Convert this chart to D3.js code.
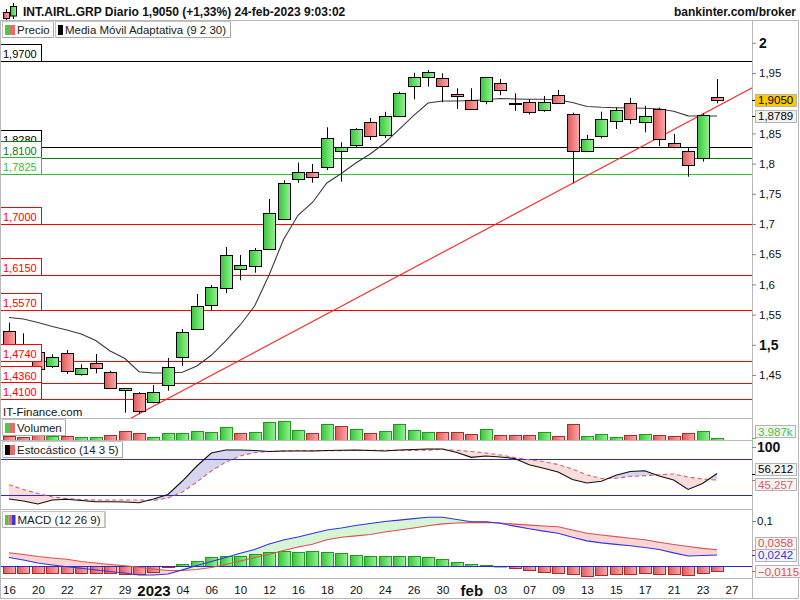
<!DOCTYPE html>
<html><head><meta charset="utf-8">
<script src="https://cdn.jsdelivr.net/npm/d3@7/dist/d3.min.js"></script>
<style>
html,body{margin:0;padding:0;background:#fff;}
svg{display:block;font-family:"Liberation Sans",Arial,sans-serif;}
</style></head><body>
<svg id="chart" width="800" height="600"></svg>
<script>
// ---------------- DATA ----------------
const dates = ["2022-12-16","2022-12-19","2022-12-20","2022-12-21","2022-12-22","2022-12-23","2022-12-27","2022-12-28","2022-12-29","2022-12-30",
"2023-01-02","2023-01-03","2023-01-04","2023-01-05","2023-01-06","2023-01-09","2023-01-10","2023-01-11","2023-01-12","2023-01-13",
"2023-01-16","2023-01-17","2023-01-18","2023-01-19","2023-01-20","2023-01-23","2023-01-24","2023-01-25","2023-01-26","2023-01-27",
"2023-01-30","2023-01-31","2023-02-01","2023-02-02","2023-02-03","2023-02-06","2023-02-07","2023-02-08","2023-02-09","2023-02-10",
"2023-02-13","2023-02-14","2023-02-15","2023-02-16","2023-02-17","2023-02-20","2023-02-21","2023-02-22","2023-02-23","2023-02-24"];
const open  = [1.523,1.485,1.4886,1.4649,1.4859,1.4517,1.4704,1.4555,1.4247,1.4197,1.4048,1.4334,1.4793,1.5257,1.5654,1.5935,1.625,1.63,1.6581,1.7088,1.774,1.7861,1.7949,1.8214,1.8308,1.8689,1.8474,1.8788,1.9285,1.9429,1.9412,1.9152,1.9058,1.9031,1.9329,1.9003,1.9015,1.8887,1.9136,1.8821,1.8214,1.8457,1.871,1.8998,1.8684,1.8904,1.8336,1.8209,1.8088,1.9098];
const high  = [1.5366,1.519,1.492,1.4843,1.4914,1.4677,1.4848,1.457,1.4285,1.4214,1.4334,1.4781,1.5262,1.5841,1.599,1.6619,1.6487,1.6603,1.7414,1.7724,1.8015,1.7993,1.8601,1.8353,1.8589,1.8755,1.8859,1.919,1.9505,1.955,1.9495,1.9247,1.9247,1.943,1.9401,1.9164,1.907,1.912,1.9219,1.8843,1.8474,1.8859,1.8932,1.9091,1.8959,1.8926,1.849,1.8263,1.8833,1.94];
const low   = [1.476,1.476,1.457,1.4616,1.4517,1.4489,1.4528,1.4275,1.3876,1.3857,1.4031,1.424,1.4654,1.5257,1.5565,1.5853,1.6068,1.6194,1.657,1.7066,1.7684,1.7684,1.7894,1.77,1.8275,1.8391,1.8424,1.877,1.9065,1.9273,1.9015,1.8904,1.8887,1.8982,1.9131,1.8876,1.8816,1.8859,1.8998,1.7674,1.8197,1.8419,1.8573,1.8656,1.8518,1.8291,1.8253,1.7783,1.8032,1.8998];
const close = [1.480,1.478,1.4594,1.4793,1.4566,1.4611,1.4614,1.4285,1.428,1.3904,1.4224,1.4627,1.5207,1.5637,1.5952,1.6482,1.6316,1.6565,1.7177,1.7674,1.7861,1.7784,1.8419,1.827,1.8573,1.8457,1.8788,1.9164,1.9429,1.9512,1.9285,1.9119,1.8899,1.9429,1.9219,1.8992,1.8849,1.9015,1.8998,1.8214,1.8402,1.8733,1.8887,1.8733,1.8788,1.8402,1.827,1.7972,1.8805,1.905];
const prevClose = 1.49; // close of the session before the first bar
// Adaptive moving average (9 2 30)
const ama = [1.5452,1.5427,1.5369,1.5303,1.5245,1.5179,1.5071,1.4897,1.4776,1.4555,1.4533,1.4533,1.4546,1.4649,1.4826,1.5066,1.5328,1.5642,1.6156,1.6743,1.7144,1.7356,1.7679,1.7836,1.801,1.8159,1.8341,1.8566,1.8795,1.9003,1.9036,1.9036,1.9045,1.9058,1.9078,1.907,1.9065,1.9065,1.9053,1.9012,1.8945,1.8932,1.8925,1.892,1.8916,1.8904,1.8866,1.879,1.8789,1.8789];
// Volume (thousands)
const volume = [9.1,6.2,10.7,9.1,8.5,7.5,6.2,10.7,21.3,15.3,6.2,15.3,15.3,21.3,17.6,29.0,15.3,17.6,40.5,42.7,22.2,15.3,35.9,31.3,24.5,15.3,19.9,35.9,22.2,17.6,17.6,17.6,13.0,24.5,10.7,10.7,10.7,17.6,8.5,35.9,8.5,13.0,6.2,10.7,13.0,10.7,8.5,15.3,19.9,3.987];
// Stochastic (14 3 5)
const stochK = [13.8,10.5,5.5,12.2,13.3,11.3,9.3,9.3,8.8,7.7,13.8,21.3,43.8,68.8,90.5,95.5,95.5,94.7,93,93.8,93.8,93.8,94.7,95,95.5,94.7,93.8,95.5,96.3,97.2,97.2,91.3,83.3,85.5,83.8,81.3,71,65,58.8,46.3,40.5,43.5,53.3,59.7,61,52.2,45.5,29.7,39.7,56.212];
const stochD = [37.7,29.7,23,17.2,14.7,13,12.2,12.2,12.2,12.2,11.3,15.5,25.5,42.2,60.5,75.5,85.5,91.3,93,93.8,94.7,94.5,94.5,94.5,94.7,95,95,94.7,94.8,95.3,96.7,95,93,90.5,87.2,83,79.2,76.3,71.3,63.8,53.8,48,48.3,51.3,52.7,54.3,55.5,50.5,47.2,45.257];
// MACD (12 26 9)
const macdLine = [0.0188,0.0132,0.0066,0.0022,-0.0015,-0.0051,-0.0088,-0.0121,-0.0155,-0.0199,-0.0199,-0.0177,-0.0085,0.0011,0.0099,0.0188,0.028,0.0364,0.0486,0.0574,0.064,0.0717,0.0795,0.0839,0.0894,0.0938,0.0982,0.1013,0.1045,0.1075,0.1075,0.1025,0.0978,0.0978,0.0942,0.088,0.0824,0.077,0.0722,0.0633,0.0554,0.0511,0.0477,0.0448,0.0408,0.0365,0.0289,0.0222,0.0232,0.0242];
const signalLine = [0.0294,0.0254,0.021,0.0177,0.0148,0.0099,0.0066,0.0033,0.0007,-0.0029,-0.0066,-0.0099,-0.0099,-0.0077,-0.0033,0.0033,0.011,0.0188,0.0254,0.0342,0.0419,0.048,0.058,0.0635,0.0665,0.0695,0.075,0.0795,0.084,0.089,0.093,0.0949,0.0958,0.0962,0.095,0.0925,0.0902,0.0884,0.0865,0.0795,0.0722,0.0685,0.0649,0.0614,0.0578,0.0523,0.0475,0.043,0.039,0.0358];
const macdHist = [-0.0147,-0.0147,-0.0162,-0.0162,-0.0162,-0.0162,-0.0162,-0.0162,-0.0177,-0.0177,-0.0125,-0.003,0.0044,0.011,0.019,0.0213,0.022,0.0265,0.030,0.0324,0.031,0.0324,0.030,0.028,0.0235,0.022,0.022,0.022,0.022,0.019,0.0147,0.0081,0.0044,0.0022,0.0004,-0.0052,-0.0095,-0.0125,-0.0147,-0.0184,-0.0228,-0.0206,-0.0184,-0.0184,-0.0162,-0.0184,-0.0184,-0.0206,-0.0162,-0.0115];
// Horizontal levels and trendline anchors
const levels = [1.97,1.828,1.81,1.7825,1.70,1.615,1.557,1.474,1.436,1.41];
const levelColors = ["#000000","#000000","#0b7a0b","#33bf33","#ff0000","#ff0000","#ff0000","#ff0000","#ff0000","#ff0000"];
const trendAnchors = [9, 39]; // bar indices whose lows define the trendline
// Axis ticks (1,9 is hidden behind the last-price box in the original)
const priceTicks = [1.45,1.5,1.55,1.6,1.65,1.7,1.75,1.8,1.85,1.95,2.0];
const xTickIdx = [0,2,4,6,8,10,12,14,16,18,20,22,24,26,28,30,32,34,36,38,40,42,44,46,48,50];
const xTickLabels = ["16","20","22","27","29","2023","04","06","10","12","16","18","20","24","26","30","feb","03","07","09","13","15","17","21","23","27"];
const title = "INT.AIRL.GRP Diario 1,9050 (+1,33%) 24-feb-2023 9:03:02";

// ---------------- SETUP ----------------
const loc = d3.formatLocale({decimal:",",thousands:".",grouping:[3],currency:["",""]});
const f4 = loc.format(".4f"), f3 = loc.format(".3f"), fTick = loc.format(".2~f");
const svg = d3.select("#chart");
const defs = svg.append("defs");
function grad(id,c1,c2){
  const g=defs.append("linearGradient").attr("id",id).attr("x1",0).attr("x2",1).attr("y1",0).attr("y2",0);
  g.append("stop").attr("offset",0).attr("stop-color",c1);
  g.append("stop").attr("offset",1).attr("stop-color",c2);
}
grad("gUp","#38c638","#94f294");
grad("gDn","#e25a5a","#faaaaa");
const RX = 752;
const PT=21, PB=418, VT=418, VB=440, ST=440, SB=509, MT=509, MB=578;
function clip(id,y0,y1){defs.append("clipPath").attr("id",id).append("rect").attr("x",0).attr("y",y0).attr("width",RX).attr("height",y1-y0);}
clip("cpP",PT,PB); clip("cpV",VT,VB); clip("cpS",ST,SB); clip("cpM",MT,MB);

const x  = d3.scaleLinear().domain([0,dates.length-1]).range([9,717]);
const yP = d3.scaleLinear().domain([1.45,1.95]).range([375,73]);
const yV = d3.scaleLinear().domain([0,48]).range([440,419]);
const yS = d3.scaleLinear().domain([0,100]).range([507.3,447.3]);
const yM = d3.scaleLinear().domain([0,0.1]).range([566,520.7]);
const cx = i => Math.round(x(i))+0.5;
const idx = d3.range(dates.length);

svg.append("rect").attr("width",800).attr("height",600).attr("fill","#fff");

// ---------------- HEADER ----------------
const hdr = svg.append("g");
hdr.append("line").attr("x1",6.5).attr("x2",6.5).attr("y1",9).attr("y2",20).attr("stroke","#000");
hdr.append("rect").attr("x",3.5).attr("y",12.5).attr("width",6).attr("height",6).attr("fill","url(#gDn)").attr("stroke","#000");
hdr.append("line").attr("x1",13.5).attr("x2",13.5).attr("y1",3).attr("y2",19).attr("stroke","#000");
hdr.append("rect").attr("x",10.5).attr("y",6.5).attr("width",6).attr("height",9.5).attr("fill","url(#gUp)").attr("stroke","#000");
hdr.append("text").attr("x",23).attr("y",16).attr("font-weight","bold").attr("font-size",12).attr("fill","#111").text(title);
hdr.append("text").attr("x",796).attr("y",16).attr("text-anchor","end").attr("font-weight","bold").attr("font-size",12).attr("fill","#111").text("bankinter.com/broker");

// ---------------- PRICE PANEL ----------------
const gP = svg.append("g").attr("clip-path","url(#cpP)");
gP.selectAll("line.lvl").data(levels).join("line").attr("class","lvl")
  .attr("x1",0).attr("x2",RX).attr("y1",d=>Math.round(yP(d))+0.5).attr("y2",d=>Math.round(yP(d))+0.5)
  .attr("stroke",(d,i)=>levelColors[i]).attr("stroke-width",1);
gP.append("path").datum(idx).attr("fill","none").attr("stroke","#3a3a3a").attr("stroke-width",1.1)
  .attr("d",d3.line().x(i=>x(i)).y(i=>yP(ama[i])));
const [ta,tb] = trendAnchors;
const slope = (low[tb]-low[ta])/(tb-ta);
const tPts = [ta-3, dates.length+4];
gP.append("path").datum(tPts).attr("fill","none").attr("stroke","#ff2020").attr("stroke-width",1.1)
  .attr("d",d3.line().x(i=>x(i)).y(i=>yP(low[ta]+slope*(i-ta))));
const cg = gP.selectAll("g.c").data(idx).join("g").attr("class","c");
cg.append("line").attr("x1",cx).attr("x2",cx).attr("y1",i=>yP(high[i])).attr("y2",i=>yP(low[i])).attr("stroke","#000");
cg.append("rect")
  .attr("x",i=>cx(i)-6).attr("width",12)
  .attr("y",i=>Math.round(yP(Math.max(open[i],close[i])))+0.5)
  .attr("height",i=>Math.max(1,Math.round(yP(Math.min(open[i],close[i])))-Math.round(yP(Math.max(open[i],close[i])))))
  .attr("fill",i=>close[i]>=open[i]?"url(#gUp)":"url(#gDn)").attr("stroke","#000");
levels.forEach((v,i)=>{
  const yl = Math.round(yP(v))+0.5;
  const g = svg.append("g");
  g.append("rect").attr("x",0.5).attr("y",yl-17).attr("width",41).attr("height",17).attr("fill","#fff").attr("stroke",levelColors[i]);
  g.append("text").attr("x",3).attr("y",yl-4).attr("font-size",11).attr("fill",levelColors[i]).text(f4(v));
});
svg.append("text").attr("x",3).attr("y",416).attr("font-size",11.5).attr("fill","#111").text("IT-Finance.com");

// ---------------- VOLUME ----------------
const gV = svg.append("g").attr("clip-path","url(#cpV)");
const volUp = i => close[i] >= (i===0?prevClose:close[i-1]);
gV.selectAll("rect").data(idx).join("rect")
  .attr("x",i=>cx(i)-6).attr("width",12)
  .attr("y",i=>Math.round(yV(volume[i]))+0.5)
  .attr("height",i=>Math.max(1,Math.round(yV(0))-Math.round(yV(volume[i]))))
  .attr("fill",i=>volUp(i)?"url(#gUp)":"url(#gDn)")
  .attr("stroke",i=>volUp(i)?"#1f9a1f":"#b02828");

// ---------------- BAND FILL HELPER ----------------
function bandFill(g,a,b,ys,cAbove,cBelow){
  const poly=(pts,c)=>g.append("path").attr("d","M"+pts.map(p=>p.join(",")).join("L")+"Z").attr("fill",c).attr("stroke",c).attr("stroke-width",0.4);
  for(let i=0;i<a.length-1;i++){
    const x0=x(i),x1=x(i+1),d0=a[i]-b[i],d1=a[i+1]-b[i+1];
    if(d0*d1<0){
      const t=d0/(d0-d1), xm=x0+(x1-x0)*t, vm=a[i]+(a[i+1]-a[i])*t;
      poly([[x0,ys(a[i])],[xm,ys(vm)],[x0,ys(b[i])]], d0>0?cAbove:cBelow);
      poly([[xm,ys(vm)],[x1,ys(a[i+1])],[x1,ys(b[i+1])]], d1>0?cAbove:cBelow);
    } else {
      poly([[x0,ys(a[i])],[x1,ys(a[i+1])],[x1,ys(b[i+1])],[x0,ys(b[i])]], (d0+d1)>=0?cAbove:cBelow);
    }
  }
}

// ---------------- STOCHASTIC ----------------
const gS = svg.append("g").attr("clip-path","url(#cpS)");
bandFill(gS.append("g"),stochK,stochD,yS,"#d5d5ef","#f9dcdc");
[80,20].forEach(v=>gS.append("line").attr("x1",0).attr("x2",RX).attr("y1",Math.round(yS(v))+0.5).attr("y2",Math.round(yS(v))+0.5).attr("stroke","#2a2ad0"));
gS.append("path").datum(idx).attr("fill","none").attr("stroke","#e06060").attr("stroke-width",1.1).attr("stroke-dasharray","4,3")
  .attr("d",d3.line().x(i=>x(i)).y(i=>yS(stochD[i])));
gS.append("path").datum(idx).attr("fill","none").attr("stroke","#111").attr("stroke-width",1.1)
  .attr("d",d3.line().x(i=>x(i)).y(i=>yS(stochK[i])));

// ---------------- MACD ----------------
const gM = svg.append("g").attr("clip-path","url(#cpM)");
bandFill(gM.append("g"),macdLine,signalLine,yM,"#d5f5d5","#f8d4d4");
gM.selectAll("rect.h").data(idx).join("rect").attr("class","h")
  .attr("x",i=>cx(i)-6).attr("width",12)
  .attr("y",i=>Math.round(yM(Math.max(0,macdHist[i])))+0.5)
  .attr("height",i=>Math.max(0.5,Math.abs(Math.round(yM(macdHist[i]))-Math.round(yM(0)))))
  .attr("fill",i=>macdHist[i]>=0?"url(#gUp)":"url(#gDn)")
  .attr("stroke",i=>macdHist[i]>=0?"#1f9a1f":"#b02828");
gM.append("line").attr("x1",0).attr("x2",RX).attr("y1",Math.round(yM(0))+0.5).attr("y2",Math.round(yM(0))+0.5).attr("stroke","#2a2ad0");
gM.append("path").datum(idx).attr("fill","none").attr("stroke","#e05050").attr("stroke-width",1.1)
  .attr("d",d3.line().x(i=>x(i)).y(i=>yM(signalLine[i])));
gM.append("path").datum(idx).attr("fill","none").attr("stroke","#3535e0").attr("stroke-width",1.1)
  .attr("d",d3.line().x(i=>x(i)).y(i=>yM(macdLine[i])));

// ---------------- FRAME ----------------
const frame = svg.append("g").attr("stroke","#b8b8b8").attr("fill","none");
frame.append("rect").attr("x",0.5).attr("y",20.5).attr("width",798).attr("height",578);
[VT,ST,MT,MB].forEach(y=>frame.append("line").attr("x1",0).attr("x2",RX).attr("y1",y+0.5).attr("y2",y+0.5));
frame.append("line").attr("x1",RX+0.5).attr("x2",RX+0.5).attr("y1",21).attr("y2",599);

// ---------------- AXES ----------------
const isBig = d => Math.abs(d-2)<1e-9||Math.abs(d-1.5)<1e-9;
const axP = svg.append("g").attr("transform",`translate(${RX},0)`)
  .call(d3.axisRight(yP).tickValues(priceTicks).tickSize(4).tickPadding(3).tickFormat(d=>fTick(d)));
axP.select(".domain").remove();
axP.selectAll(".tick line").attr("stroke","#888");
axP.selectAll(".tick text").attr("fill","#111").attr("font-family","Liberation Sans, Arial, sans-serif")
  .attr("font-size",d=>isBig(d)?14:11.5)
  .attr("font-weight",d=>isBig(d)?"bold":"normal");

const isBold = i => /^[a-z]|^\d{4}$/.test(xTickLabels[i]);
const axX = svg.append("g").attr("transform",`translate(0,${MB})`)
  .call(d3.axisBottom(x).tickValues(xTickIdx).tickSize(0).tickPadding(8).tickFormat((d,i)=>xTickLabels[i]));
axX.select(".domain").remove();
axX.selectAll(".tick text").attr("fill","#111").attr("font-family","Liberation Sans, Arial, sans-serif")
  .attr("font-size",(d,i)=>isBold(i)?15:11.5)
  .attr("font-weight",(d,i)=>isBold(i)?"bold":"normal")
  .attr("y",(d,i)=>isBold(i)?7:8);

function tick(y,color){svg.append("line").attr("x1",RX).attr("x2",RX+4).attr("y1",Math.round(y)+0.5).attr("y2",Math.round(y)+0.5).attr("stroke",color);}
tick(yS(100),"#888");
svg.append("text").attr("x",757).attr("y",yS(100)+5).attr("font-size",14).attr("font-weight","bold").attr("fill","#111").text("100");
tick(yM(0.1),"#888");
svg.append("text").attr("x",757).attr("y",yM(0.1)+4).attr("font-size",11.5).attr("fill","#111").text(loc.format(".1f")(0.1));

function valBox(yc,text,color,fill){
  const g=svg.append("g");
  const r=g.append("rect").attr("x",755.5).attr("y",Math.round(yc-6.5)+0.5).attr("height",12).attr("fill",fill).attr("stroke","#b4b4b4");
  const t=g.append("text").attr("x",758).attr("y",yc+4).attr("font-size",11.5).attr("fill",color).text(text);
  r.attr("width",Math.ceil(t.node().getComputedTextLength())+5);
}
const last = dates.length-1;
tick(yP(close[last]),"#000"); valBox(yP(close[last]),f4(close[last]),"#000","#fcc800");
tick(yP(ama[last]),"#000"); valBox(yP(ama[last])+0.5,f4(ama[last]),"#000","#f2f2f2");
tick(yV(volume[last]),"#3cc83c"); valBox(Math.min(yV(volume[last]),VB-8.5),d3.format(".3f")(volume[last])+"k","#3cc83c","#f4f4f4");
{
  const yk=yS(stochK[last]), yd=yS(stochD[last]), mid=(yk+yd)/2, gap=7.8;
  tick(yk,"#000"); tick(yd,"#e06060");
  valBox(Math.min(yk,mid-gap),f3(stochK[last]),"#000","#f4f4f4");
  valBox(Math.max(yd,mid+gap),f3(stochD[last]),"#e06060","#f4f4f4");
}
tick(yM(signalLine[last]),"#e05050"); tick(yM(macdLine[last]),"#3535e0"); tick(yM(macdHist[last]),"#e05050");
valBox(yM(signalLine[last])-6.5,f4(signalLine[last]),"#e05050","#f4f4f4");
valBox(yM(macdLine[last]),f4(macdLine[last]),"#3535e0","#f4f4f4");
valBox(Math.min(yM(macdHist[last])+1,MB-6.5),f4(macdHist[last]),"#e05050","#f4f4f4");

// ---------------- LEGENDS ----------------
function legend(x0,y0,text,colors){
  const g=svg.append("g");
  const r=g.append("rect").attr("x",x0+0.5).attr("y",y0+0.5).attr("height",16).attr("fill","#fff").attr("stroke","#c4c4c4");
  const sw=colors.length===3?3.5:5;
  colors.forEach((c,k)=>g.append("rect").attr("x",x0+3+k*sw).attr("y",y0+4).attr("width",sw).attr("height",10).attr("fill",c));
  const t=g.append("text").attr("x",x0+5+colors.length*sw).attr("y",y0+13).attr("font-size",11.5).attr("fill","#202020").text(text);
  const w=Math.ceil(t.node().getComputedTextLength())+8+colors.length*sw;
  r.attr("width",w);
  g.append("path").attr("d",`M${x0+w+0.5},${y0+1}V${y0+16.5}H${x0+1}`).attr("stroke","#a8a8a8").attr("fill","none");
  return w;
}
const w1 = legend(2,21,"Precio",["#44cc44","#e86a6a"]);
legend(2+w1+2,21,"Media Móvil Adaptativa (9 2 30)",["#000"]);
legend(2,419,"Volumen",["#44cc44","#e86a6a"]);
legend(2,441,"Estocástico (14 3 5)",["#000","#e86a6a"]);
legend(2,511,"MACD (12 26 9)",["#44cc44","#e86a6a","#3535e0"]);
</script>
</body></html>
